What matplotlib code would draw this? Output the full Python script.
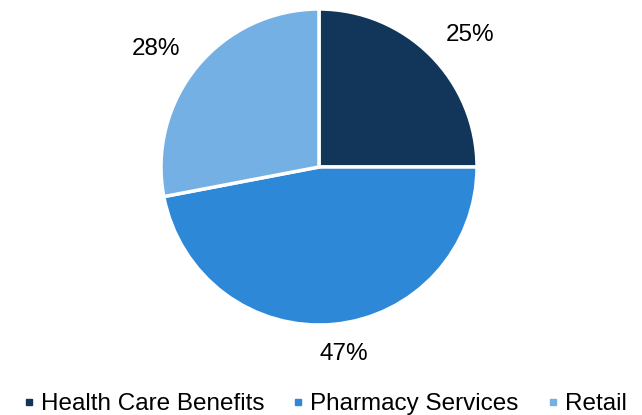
import matplotlib.pyplot as plt
import numpy as np
from matplotlib.lines import Line2D

plt.rcParams['font.family'] = ['Liberation Sans', 'DejaVu Sans']

segments = ["Health Care Benefits", "Pharmacy Services", "Retail"]
shares = [25, 47, 28]
colors = ["#12365a", "#2e88d8", "#74b0e4"]
# label placement: radial distance and angular nudge (deg) from wedge middle
label_dist = [1.28, 1.18, 1.28]
label_nudge = [-3.4, 2.3, 3.2]

fig = plt.figure(figsize=(6.42, 4.15), dpi=100)
ax = fig.add_axes([161 / 642, 90 / 415, 316 / 642, 316 / 415])

wedges, _ = ax.pie(shares, colors=colors, startangle=90, counterclock=False,
                   wedgeprops=dict(edgecolor="white", linewidth=2.5))

for w, s, d, n in zip(wedges, shares, label_dist, label_nudge):
    ang = np.deg2rad((w.theta1 + w.theta2) / 2 + n)
    ax.annotate(f"{s}%", (d * np.cos(ang), d * np.sin(ang)), xytext=(0, -1.5),
                textcoords="offset points", ha="center", va="center",
                fontsize=17.5, color="black", annotation_clip=False)

ax.set_xlim(-1, 1)
ax.set_ylim(-1, 1)
ax.set_aspect("equal")
ax.axis("off")

handles = [Line2D([], [], marker="s", linestyle="none", markersize=5,
                  markerfacecolor=c, markeredgecolor=c) for c in colors]
fig.legend(handles, segments, loc="center", bbox_to_anchor=(324 / 642, 11 / 415),
           ncol=3, frameon=False, fontsize=17.5, handlelength=0.6,
           handletextpad=0.2, columnspacing=1.1, borderaxespad=0, borderpad=0)

fig.savefig("out.png", dpi=100)
